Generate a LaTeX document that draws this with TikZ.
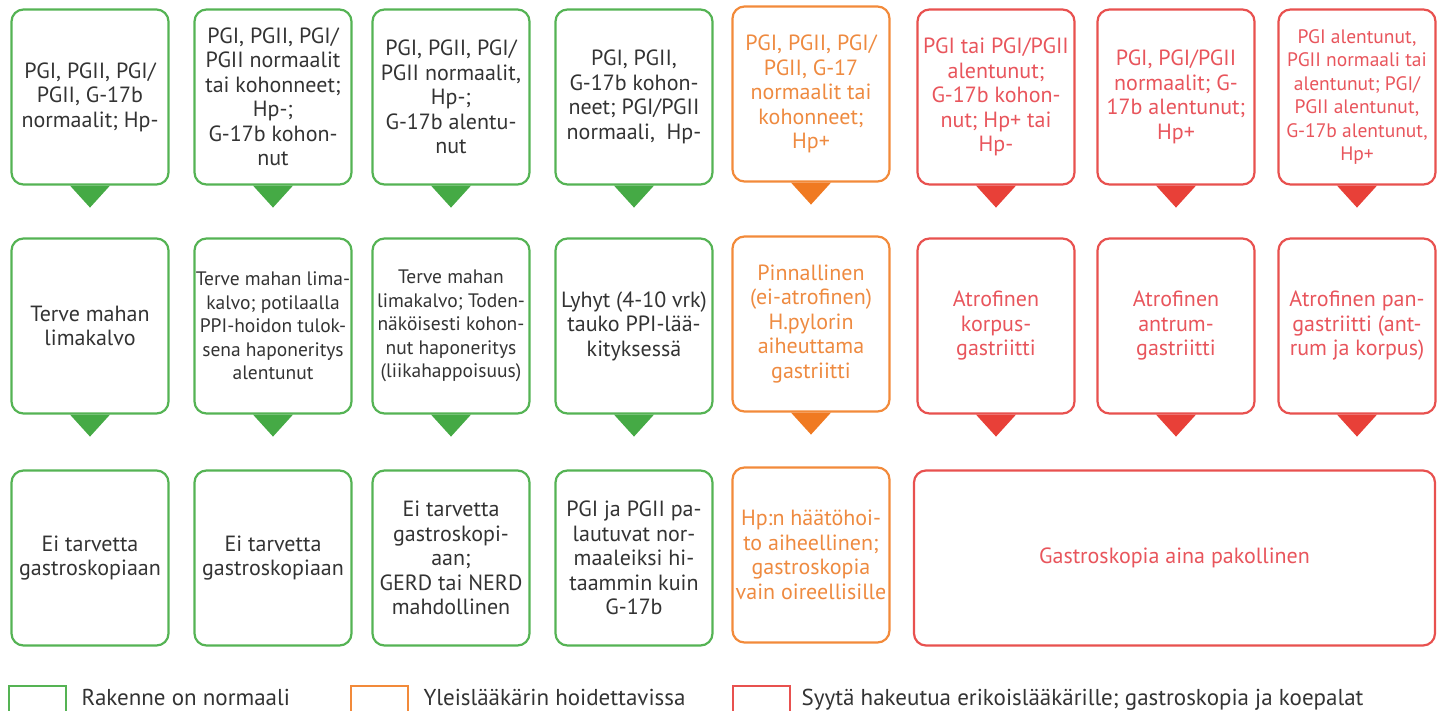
\documentclass[tikz,border=0pt]{standalone}
\usepackage{fontspec}
\setmainfont{PT Sans}
\definecolor{txt}{HTML}{333333}
\definecolor{grn}{HTML}{55B354}
\definecolor{grnfill}{HTML}{45AA45}
\definecolor{org}{HTML}{F28A3A}
\definecolor{orgfill}{HTML}{F07A22}
\definecolor{orgtxt}{HTML}{EE8A40}
\definecolor{rd}{HTML}{E8514F}
\definecolor{rdfill}{HTML}{E84038}
\definecolor{rdtxt}{HTML}{E8555C}
\tikzset{
  box/.style={draw, rounded corners=12pt, line width=2.2pt, minimum width=157pt,
    minimum height=175pt, align=center, inner sep=0pt, text=txt,
    font=\fontsize{22}{24.5}\selectfont},
  grnbox/.style={box, draw=grn},
  orgbox/.style={box, draw=org, text=orgtxt},
  rdbox/.style={box, draw=rd, text=rdtxt},
  small/.style={font=\fontsize{19.5}{23.5}\selectfont},
  keybox/.style={draw, line width=2.2pt, minimum width=57pt, minimum height=50pt, anchor=north west},
  keytext/.style={anchor=base west, text=txt, font=\fontsize{23}{24}\selectfont}
}
\begin{document}
\begin{tikzpicture}[x=1pt,y=-1pt]
                \useasboundingbox (0,0) rectangle (1443,711);
                %% tests
                \node[grnbox] (t1) at (90,97) {PGI, PGII, PGI/\\PGII, G-17b\\normaalit; Hp-};
                \node[grnbox] (t2) at (273,97) {PGI, PGII, PGI/\\PGII normaalit\\tai kohonneet;\\Hp-;\\G-17b kohon-\\nut};
                \node[grnbox] (t3) at (451,97) {PGI, PGII, PGI/\\PGII normaalit,\\Hp-;\\G-17b alentu-\\nut};
                \node[grnbox] (t4) at (634,97) {PGI, PGII,\\G-17b kohon-\\neet; PGI/PGII\\normaali,\ \ Hp-};
                \node[orgbox] (t5) at (811,94) {PGI, PGII, PGI/\\PGII, G-17\\normaalit tai\\kohonneet;\\Hp+};
                \node[rdbox] (t6) at (996,97) {PGI tai PGI/PGII\\alentunut;\\G-17b kohon-\\nut; Hp+ tai\\Hp-};
                \node[rdbox] (t7) at (1176,97) {PGI, PGI/PGII\\normaalit; G-\\17b alentunut;\\Hp+};
                \node[rdbox,small] (t8) at (1357,97) {PGI alentunut,\\PGII normaali tai\\alentunut; PGI/\\PGII alentunut,\\G-17b alentunut,\\Hp+};
                %% findings
                \node[grnbox] (f1) at (90,326) {Terve mahan\\limakalvo};
                \node[grnbox,small] (f2) at (273,326) {Terve mahan lima-\\kalvo; potilaalla\\PPI-hoidon tulok-\\sena haponeritys\\alentunut};
                \node[grnbox,small] (f3) at (451,326) {Terve mahan\\limakalvo; Toden-\\näköisesti kohon-\\nut haponeritys\\(liikahappoisuus)};
                \node[grnbox] (f4) at (634,326) {Lyhyt (4-10 vrk)\\tauko PPI-lää-\\kityksessä};
                \node[orgbox] (f5) at (811,324) {Pinnallinen\\(ei-atrofinen)\\H.pylorin\\aiheuttama\\gastriitti};
                \node[rdbox] (f6) at (996,326) {Atrofinen\\korpus-\\gastriitti};
                \node[rdbox] (f7) at (1176,326) {Atrofinen\\antrum-\\gastriitti};
                \node[rdbox] (f8) at (1357,326) {Atrofinen pan-\\gastriitti (ant-\\rum ja korpus)};
                %% actions
                \node[grnbox] (a1) at (90,558) {Ei tarvetta\\gastroskopiaan};
                \node[grnbox] (a2) at (273,558) {Ei tarvetta\\gastroskopiaan};
                \node[grnbox] (a3) at (451,558) {Ei tarvetta\\gastroskopi-\\aan;\\GERD tai NERD\\mahdollinen};
                \node[grnbox] (a4) at (634,558) {PGI ja PGII pa-\\lautuvat nor-\\maaleiksi hi-\\taammin kuin\\G-17b};
                \node[orgbox] (a5) at (811,555) {Hp:n häätöhoi-\\to aiheellinen;\\gastroskopia\\vain oireellisille};
                \node[rdbox,minimum width=521pt] (a6) at (1174.5,558) {Gastroskopia aina pakollinen};
                %% pointers
                \fill[grnfill] (t1.south) ++(-20,0) -- ++(40,0) -- ++(-20,22) -- cycle;
                \fill[grnfill] (t2.south) ++(-20,0) -- ++(40,0) -- ++(-20,22) -- cycle;
                \fill[grnfill] (t3.south) ++(-20,0) -- ++(40,0) -- ++(-20,22) -- cycle;
                \fill[grnfill] (t4.south) ++(-20,0) -- ++(40,0) -- ++(-20,22) -- cycle;
                \fill[orgfill] (t5.south) ++(-20,0) -- ++(40,0) -- ++(-20,22) -- cycle;
                \fill[rdfill] (t6.south) ++(-20,0) -- ++(40,0) -- ++(-20,22) -- cycle;
                \fill[rdfill] (t7.south) ++(-20,0) -- ++(40,0) -- ++(-20,22) -- cycle;
                \fill[rdfill] (t8.south) ++(-20,0) -- ++(40,0) -- ++(-20,22) -- cycle;
                \fill[grnfill] (f1.south) ++(-20,0) -- ++(40,0) -- ++(-20,22) -- cycle;
                \fill[grnfill] (f2.south) ++(-20,0) -- ++(40,0) -- ++(-20,22) -- cycle;
                \fill[grnfill] (f3.south) ++(-20,0) -- ++(40,0) -- ++(-20,22) -- cycle;
                \fill[grnfill] (f4.south) ++(-20,0) -- ++(40,0) -- ++(-20,22) -- cycle;
                \fill[orgfill] (f5.south) ++(-20,0) -- ++(40,0) -- ++(-20,22) -- cycle;
                \fill[rdfill] (f6.south) ++(-20,0) -- ++(40,0) -- ++(-20,22) -- cycle;
                \fill[rdfill] (f7.south) ++(-20,0) -- ++(40,0) -- ++(-20,22) -- cycle;
                \fill[rdfill] (f8.south) ++(-20,0) -- ++(40,0) -- ++(-20,22) -- cycle;
                %% legend
                \node[keybox,draw=grn] (kg) at (8,685) {};
                \node[keytext] (kgt) at (78,705) {Rakenne on normaali};
                \node[keybox,draw=org] (ko) at (350,685) {};
                \node[keytext] (kot) at (420,705) {Yleislääkärin hoidettavissa};
                \node[keybox,draw=rd] (kr) at (732,685) {};
                \node[keytext] (krt) at (798,705) {Syytä hakeutua erikoislääkärille; gastroskopia ja koepalat};
\end{tikzpicture}
\end{document}
